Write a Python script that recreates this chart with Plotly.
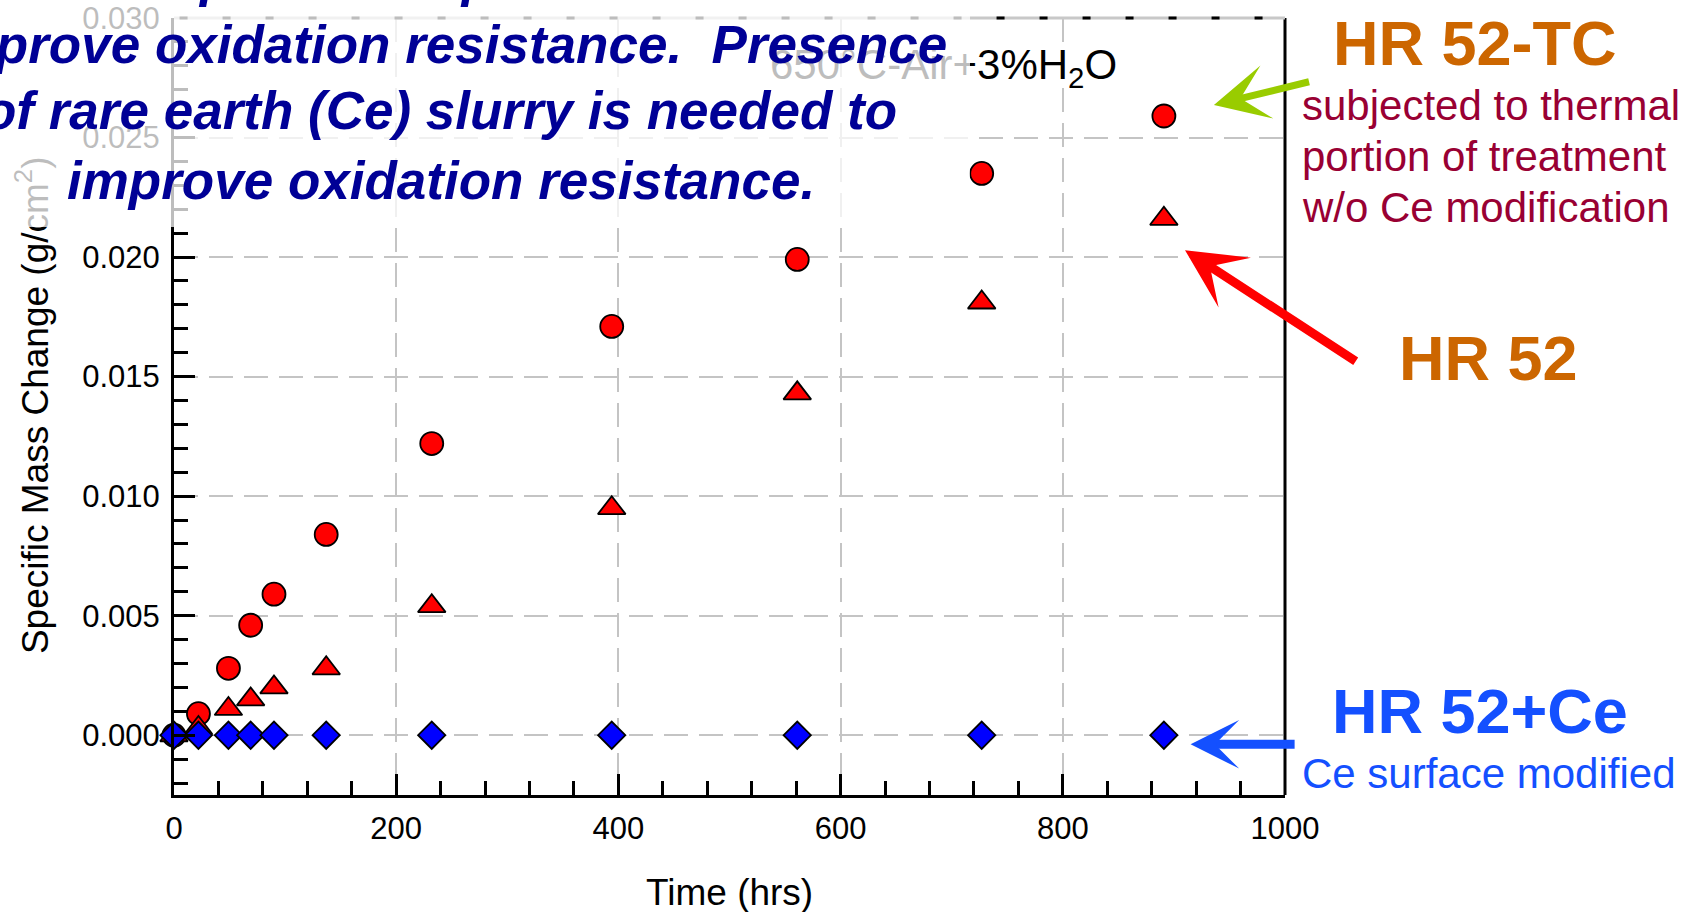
import plotly.graph_objects as go

# ---- data ----
time_hrs = [0, 22, 49, 69, 90, 137, 232, 394, 561, 727, 891]
hr52_tc = [0.0, 0.0009, 0.0028, 0.0046, 0.0059, 0.0084, 0.0122, 0.0171, 0.0199, 0.0235, 0.0259]
hr52 = [0.0, 0.0003, 0.0011, 0.0015, 0.0020, 0.0028, 0.0054, 0.0095, 0.0143, 0.0181, 0.0216]
hr52_ce = [0.0, 0.0, 0.0, 0.0, 0.0, 0.0, 0.0, 0.0, 0.0, 0.0, 0.0]

x_range = [0, 1000]
y_range = [-0.0025, 0.030]

FONT = "Liberation Sans, Arial, sans-serif"
NAVY = "rgb(0,0,150)"
ORANGE = "rgb(204,102,0)"
CRIMSON = "rgb(153,0,51)"
BLUE = "rgb(20,80,255)"
GREEN = "rgb(153,204,0)"

fig = go.Figure()
fig.add_trace(go.Scatter(x=time_hrs, y=hr52_tc, mode="markers", name="HR 52-TC", cliponaxis=False,
                         marker=dict(symbol="circle", size=23, color="#FF0000",
                                     line=dict(color="black", width=1.8))))
fig.add_trace(go.Scatter(x=time_hrs, y=hr52, mode="markers", name="HR 52", cliponaxis=False,
                         marker=dict(symbol="triangle-up", size=24, color="#FF0000",
                                     line=dict(color="black", width=1.8))))
fig.add_trace(go.Scatter(x=time_hrs, y=hr52_ce, mode="markers", name="HR 52+Ce", cliponaxis=False,
                         marker=dict(symbol="diamond", size=21, color="#0000FF",
                                     line=dict(color="black", width=1.8))))

axis_common = dict(
    showline=True, linecolor="black", linewidth=3, mirror=False, automargin=False,
    ticks="inside", tickcolor="black", tickwidth=2.5, ticklen=21,
    showgrid=True, gridcolor="#C4C4C4", gridwidth=2, griddash="24px,11px",
    zeroline=False, tickfont=dict(family=FONT, size=31, color="black"),
)
fig.update_xaxes(range=x_range, tick0=0, dtick=200, ticklabelstandoff=4,
                 minor=dict(ticks="inside", dtick=40, ticklen=14, tickwidth=2.5, tickcolor="black", showgrid=False),
                 **axis_common)
fig.update_yaxes(range=y_range, tick0=0, dtick=0.005, tickformat=".3f", ticklabelstandoff=5,
                 minor=dict(ticks="inside", dtick=0.001, ticklen=14, tickwidth=2.5, tickcolor="black", showgrid=False),
                 **axis_common)

# right border and top border
fig.add_shape(type="line", xref="paper", yref="paper", x0=1, x1=1, y0=0, y1=1,
              line=dict(color="black", width=3))
fig.add_shape(type="line", xref="paper", yref="paper", x0=0, x1=1, y0=1, y1=1,
              line=dict(color="#C8C8C8", width=3))
fig.add_shape(type="line", xref="paper", yref="paper", x0=0.005, x1=1, y0=1, y1=1,
              line=dict(color="black", width=3, dash="8px,35px"))

ann = []
# axis titles
ann.append(dict(text="Specific Mass Change (g/cm<sup>2</sup>)", xref="paper", yref="paper",
                x=-0.1268, y=0.502, textangle=-90, showarrow=False, xanchor="center", yanchor="middle",
                font=dict(family=FONT, size=37, color="black")))
ann.append(dict(text="Time (hrs)", xref="paper", yref="paper", x=0.5, y=-0.1257,
                showarrow=False, xanchor="center", yanchor="middle",
                font=dict(family=FONT, size=37, color="black")))
# condition label
ann.append(dict(text="650°C-Air+3%H<sub>2</sub>O", xref="paper", yref="paper", x=0.5345, y=0.936,
                showarrow=False, xanchor="left", yanchor="middle",
                font=dict(family=FONT, size=42, color="black")))
# semi-transparent white overlay (slide text box)
ann.append(dict(text=" ", xref="paper", yref="paper", x=-0.1565, y=1.023, xanchor="left", yanchor="top",
                width=970, height=227, bgcolor="rgba(255,255,255,0.74)", borderpad=0, borderwidth=0,
                showarrow=False, font=dict(size=10)))
# blue statement text lines
blue_lines = ["Thermal portion of process does not",
              "improve oxidation resistance.\u00a0 Presence",
              "of rare earth (Ce) slurry is needed to",
              "improve oxidation resistance."]
blue_y = [1.0526, 0.9658, 0.8809, 0.7909]
for t, yy in zip(blue_lines, blue_y):
    ann.append(dict(text="<b><i>" + t + "</i></b>", xref="paper", yref="paper", x=0.2403, y=yy,
                    showarrow=False, xanchor="center", yanchor="middle",
                    font=dict(family=FONT, size=53, color=NAVY)))

# right-hand labels
ann.append(dict(text="<b>HR 52-TC</b>", xref="paper", yref="paper", x=1.171, y=0.9677,
                showarrow=False, xanchor="center", yanchor="middle",
                font=dict(family=FONT, size=63, color=ORANGE)))
for t, yy in zip(["subjected to thermal", "portion of treatment", "w/o Ce modification"],
                 [0.888, 0.822, 0.7557]):
    ann.append(dict(text=t, xref="paper", yref="paper", x=1.0131, y=yy,
                    showarrow=False, xanchor="left", yanchor="middle",
                    font=dict(family=FONT, size=42, color=CRIMSON)))
ann.append(dict(text="<b>HR 52</b>", xref="paper", yref="paper", x=1.1836, y=0.5625,
                showarrow=False, xanchor="center", yanchor="middle",
                font=dict(family=FONT, size=63, color=ORANGE)))
ann.append(dict(text="<b>HR 52+Ce</b>", xref="paper", yref="paper", x=1.1755, y=0.1085,
                showarrow=False, xanchor="center", yanchor="middle",
                font=dict(family=FONT, size=63, color=BLUE)))
ann.append(dict(text="Ce surface modified", xref="paper", yref="paper", x=1.0131, y=0.0274,
                showarrow=False, xanchor="left", yanchor="middle",
                font=dict(family=FONT, size=42, color=BLUE)))

# arrows
ann.append(dict(text="", xref="x", yref="y", axref="x", ayref="y",
                x=936, y=0.02636, ax=1023, ay=0.02735, showarrow=True,
                arrowhead=3, arrowsize=1.3, arrowwidth=7, arrowcolor=GREEN))
ann.append(dict(text="", xref="x", yref="y", axref="x", ayref="y",
                x=910, y=0.02029, ax=1065, ay=0.0156, showarrow=True,
                arrowhead=3, arrowsize=1.1, arrowwidth=9, arrowcolor="#FF0000"))
ann.append(dict(text="", xref="x", yref="y", axref="x", ayref="y",
                x=915, y=-0.00038, ax=1010, ay=-0.00038, showarrow=True,
                arrowhead=3, arrowsize=0.9, arrowwidth=9, arrowcolor=BLUE))

fig.update_layout(
    width=1692, height=912,
    margin=dict(l=174, r=407, t=18, b=117, autoexpand=False),
    paper_bgcolor="white", plot_bgcolor="white",
    showlegend=False,
    annotations=ann,
    font=dict(family=FONT),
)

fig.write_html("out.html")
